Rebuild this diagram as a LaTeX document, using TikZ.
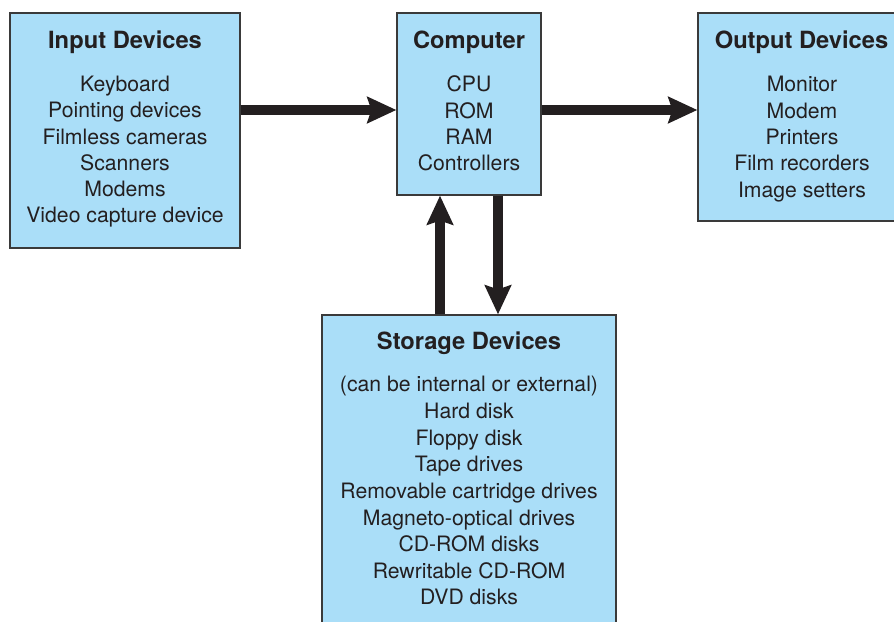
\documentclass[tikz,border=0pt]{standalone}
\usepackage{fontspec}
\setmainfont{TeX Gyre Heros}
\usetikzlibrary{arrows.meta}
\definecolor{boxfill}{RGB}{170,222,248}
\definecolor{boxline}{RGB}{58,58,58}
\definecolor{ink}{RGB}{35,31,32}
\begin{document}
\begin{tikzpicture}[x=1pt,y=-1pt,
  box/.style={draw=boxline, fill=boxfill, line width=1.2pt, inner sep=0pt},
  head/.style={font=\fontsize{23.7}{28}\selectfont\bfseries, text=ink, anchor=base, inner sep=0pt},
  item/.style={font=\fontsize{21.2}{26}\selectfont, text=ink, anchor=base, inner sep=0pt},
  flow/.style={draw=ink, line width=10pt, -{Stealth[length=29pt,width=26pt,inset=4pt]}}]
\useasboundingbox (0,0) rectangle (894,621);

% the four blocks
\node[box, minimum width=230pt, minimum height=235pt] (input) at (125,130.5) {};
\node[box, minimum width=144pt, minimum height=182pt] (computer) at (469,104) {};
\node[box, minimum width=206pt, minimum height=208pt] (output) at (801,117) {};
\node[box, minimum width=294pt, minimum height=315pt] (storage) at (469,472.5) {};

% titles
\node[head] (inputT) at (125,48.3) {Input Devices};
\node[head] (computerT) at (469,48.3) {Computer};
\node[head] (outputT) at (801.5,48.3) {Output Devices};
\node[head] (storageT) at (469,349.3) {Storage Devices};

% item lists
\foreach \t [count=\i from 0] in {Keyboard, Pointing devices, Filmless cameras, Scanners, Modems, Video capture device}
  \node[item] (in\i) at (125,91.7+26.2*\i) {\t};
\foreach \t [count=\i from 0] in {CPU, ROM, RAM, Controllers}
  \node[item] (cp\i) at (469,91.7+26.4*\i) {\t};
\foreach \t [count=\i from 0] in {Monitor, Modem, Printers, Film recorders, Image setters}
  \node[item] (out\i) at (802,91.7+26.4*\i) {\t};
\foreach \t [count=\i from 0] in {(can be internal or external), Hard disk, Floppy disk, Tape drives, Removable cartridge drives, Magneto-optical drives, CD-ROM disks, Rewritable CD-ROM, DVD disks}
  \node[item] (st\i) at (469,391.7+26.66*\i) {\t};

% data flow arrows
\coordinate (row) at (0,110);
\coordinate (upx) at (440,0);
\coordinate (downx) at (498,0);
\draw[flow] (input.east |- row) -- (computer.west |- row);
\draw[flow] (computer.east |- row) -- (output.west |- row);
\draw[flow] (storage.north -| upx) -- (computer.south -| upx);
\draw[flow] (computer.south -| downx) -- (storage.north -| downx);
\end{tikzpicture}
\end{document}
